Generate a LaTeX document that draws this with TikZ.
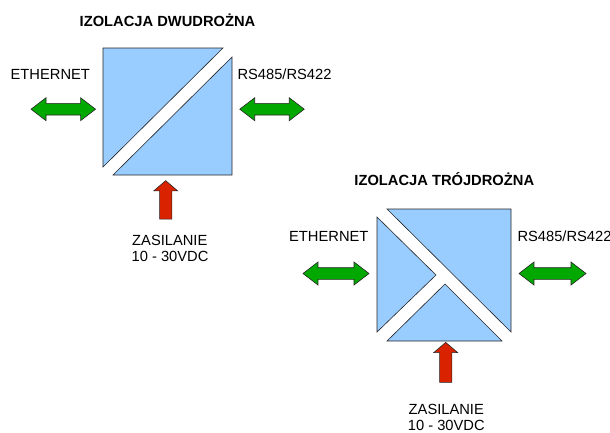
\documentclass[tikz,border=0pt]{standalone}
\usepackage{fontspec}
\setmainfont{Liberation Sans}
\usetikzlibrary{shapes.arrows}
\definecolor{boxblue}{HTML}{99CCFF}
\definecolor{arrgreen}{HTML}{00A800}
\definecolor{arrred}{HTML}{D92200}
\begin{document}
\begin{tikzpicture}[x=1pt,y=-1pt,
  lbl/.style={font=\fontsize{14.7}{17}\selectfont, inner sep=0pt, anchor=base},
  ttl/.style={inner sep=0pt, anchor=base, font=\fontsize{14.7}{17}\selectfont\bfseries},
  part/.style={fill=boxblue, draw=black!85, line width=0.6pt, line join=miter},
  dblarr/.style={double arrow, fill=arrgreen, draw=black!85, line width=0.6pt,
    minimum height=64.5pt, minimum width=0pt, inner sep=5.5pt,
    double arrow head extend=5.7pt, double arrow tip angle=75},
  uparr/.style={single arrow, shape border rotate=90, fill=arrred, draw=black!85, line width=0.6pt,
    minimum width=0pt, inner sep=5.8pt,
    single arrow head extend=5.9pt, single arrow tip angle=99}]
\useasboundingbox (0,0) rectangle (610,432);

% ---------- two-way isolation ----------
\node[ttl] (t1) at (167.5,26) {IZOLACJA DWUDROŻNA};
\path[part] (103,48) -- (223,48) -- (103,167) -- cycle;
\path[part] (232,57) -- (232,175) -- (113,175) -- cycle;
\node[lbl] (eth1) at (50.3,79) {ETHERNET};
\node[lbl, anchor=base west] (rs1) at (237.3,79) {RS485/RS422};
\node[dblarr] (ga1) at (63.3,109.2) {};
\node[dblarr] (gb1) at (272,109.2) {};
\node[uparr, minimum height=38.5pt] (ra1) at (165.7,202.5) {};
\node[lbl] (z1) at (169.8,245.7) {ZASILANIE};
\node[lbl] (v1) at (170,261.7) {10 - 30VDC};

% ---------- three-way isolation ----------
\node[ttl] (t2) at (444.3,185.7) {IZOLACJA TRÓJDROŻNA};
\path[part] (387,209) -- (511,209) -- (511,332) -- cycle;
\path[part] (377,217) -- (436,275) -- (377,332) -- cycle;
\path[part] (445,284) -- (502,341) -- (387,341) -- cycle;
\node[lbl] (eth2) at (328.8,241.7) {ETHERNET};
\node[lbl, anchor=base west] (rs2) at (517.3,241.7) {RS485/RS422};
\node[dblarr, minimum height=66pt] (ga2) at (336,273.5) {};
\node[dblarr, minimum height=67pt] (gb2) at (552.5,273.5) {};
\node[uparr, minimum height=40pt] (ra2) at (445.7,365) {};
\node[lbl] (z2) at (446.3,414) {ZASILANIE};
\node[lbl] (v2) at (446.3,430) {10 - 30VDC};
\end{tikzpicture}
\end{document}
